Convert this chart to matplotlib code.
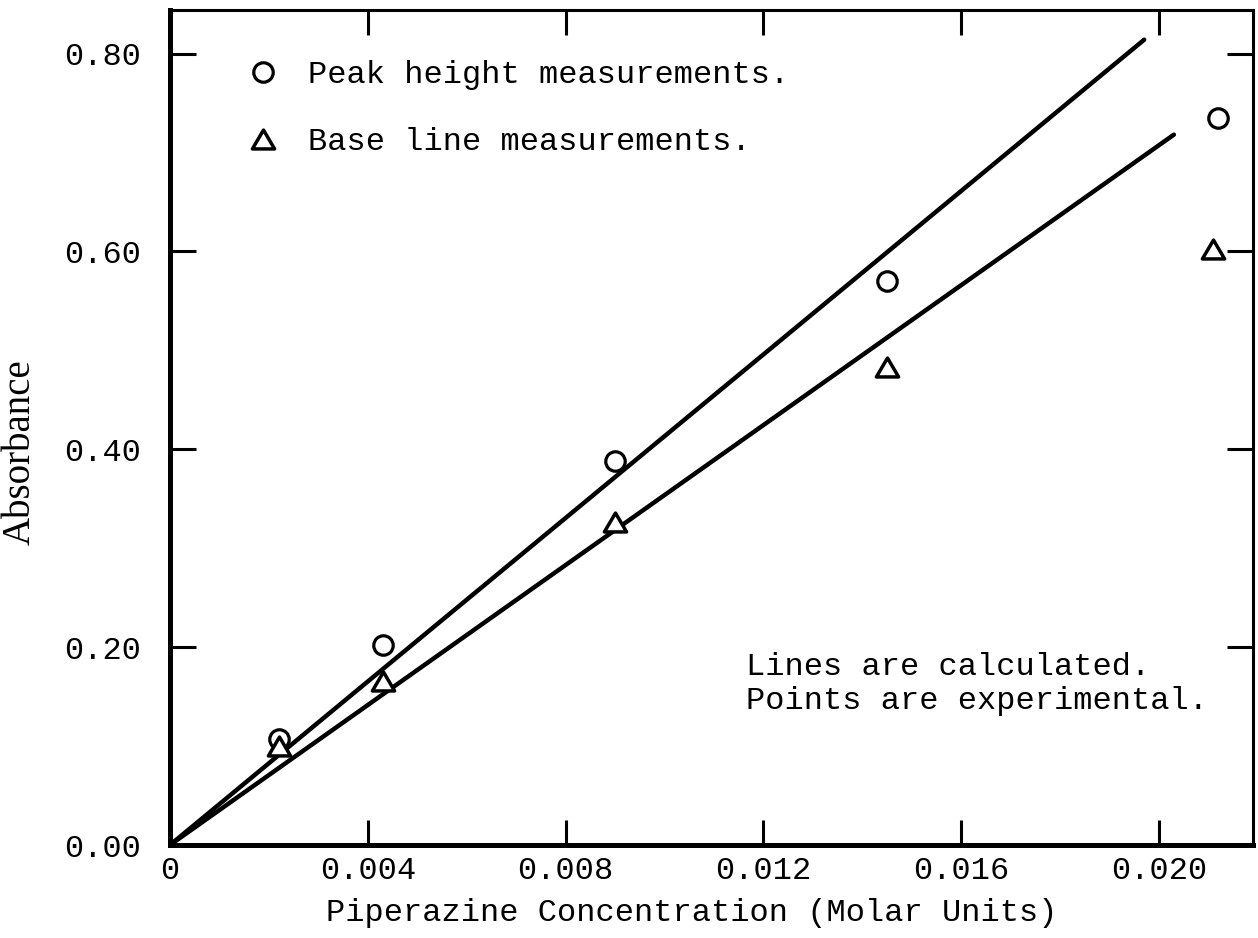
import matplotlib
matplotlib.use("Agg")
import matplotlib.pyplot as plt
from matplotlib.path import Path

# experimental points
conc = [0.0022, 0.0043, 0.0090, 0.0145, 0.0212]
peak_height = [0.107, 0.202, 0.388, 0.570, 0.735]
base_conc = [0.0022, 0.0043, 0.0090, 0.0145, 0.0211]
base_line = [0.100, 0.166, 0.326, 0.483, 0.602]

# calculated lines (through origin)
peak_calc_x = [0.0, 0.0197]
peak_calc_y = [0.0, 0.814]
base_calc_x = [0.0, 0.0203]
base_calc_y = [0.0, 0.718]

xticks = [0.0, 0.004, 0.008, 0.012, 0.016, 0.020]
xtick_labels = ["0", "0.004", "0.008", "0.012", "0.016", "0.020"]
yticks = [0.0, 0.20, 0.40, 0.60, 0.80]
ytick_labels = ["0.00", "0.20", "0.40", "0.60", "0.80"]

mono = "Liberation Mono"
fs = 23

# flattened triangle, like the typed delta in the original
tri = Path([(0, 0.85), (-1, -0.85), (1, -0.85), (0, 0.85)], closed=True)

fig = plt.figure(figsize=(12.58, 9.38), dpi=100)
ax = fig.add_axes([170 / 1258, 1 - 845 / 938, 1083 / 1258, 835 / 938])

ax.plot(peak_calc_x, peak_calc_y, color="black", lw=3.2, solid_capstyle="round")
ax.plot(base_calc_x, base_calc_y, color="black", lw=3.2, solid_capstyle="round")

ax.plot(conc, peak_height, ls="none", marker="o", ms=14, mfc="white",
        mec="black", mew=2.3, label="Peak height measurements.", zorder=3)
ax.plot(base_conc, base_line, ls="none", marker=tri, ms=16, mfc="white",
        mec="black", mew=2.5, label="Base line measurements.", zorder=3)

ax.set_xlim(0, 0.0219)
ax.set_ylim(0, 0.844)

ax.set_xticks(xticks)
ax.set_xticklabels(xtick_labels, fontfamily=mono, fontsize=fs)
ax.set_yticks(yticks)
ax.set_yticklabels(ytick_labels, fontfamily=mono, fontsize=fs)

ax.tick_params(axis="x", direction="in", length=18, width=2.2, top=True, pad=8)
ax.tick_params(axis="y", direction="in", length=19, width=2.2, right=True, pad=21)

for side in ["left", "bottom"]:
    ax.spines[side].set_linewidth(3.6)
for side in ["top", "right"]:
    ax.spines[side].set_linewidth(2.2)

ax.set_xlabel("Piperazine Concentration (Molar Units)", fontfamily=mono, fontsize=fs)
ax.xaxis.set_label_coords(0.482, -0.064)
ax.set_ylabel("Absorbance", fontfamily="Liberation Serif", fontsize=28)
ax.yaxis.set_label_coords(-0.121, 0.47)

ax.legend(loc="upper left", bbox_to_anchor=(0.071, 0.94), frameon=False,
          prop={"family": mono, "size": fs}, handlelength=1.0, handletextpad=0.9,
          borderpad=0, borderaxespad=0, labelspacing=1.15)

ax.text(0.532, 0.193, "Lines are calculated.\nPoints are experimental.",
        transform=ax.transAxes, fontfamily=mono, fontsize=fs, va="center",
        ha="left", linespacing=1.15)

fig.savefig("out.png", dpi=100)
